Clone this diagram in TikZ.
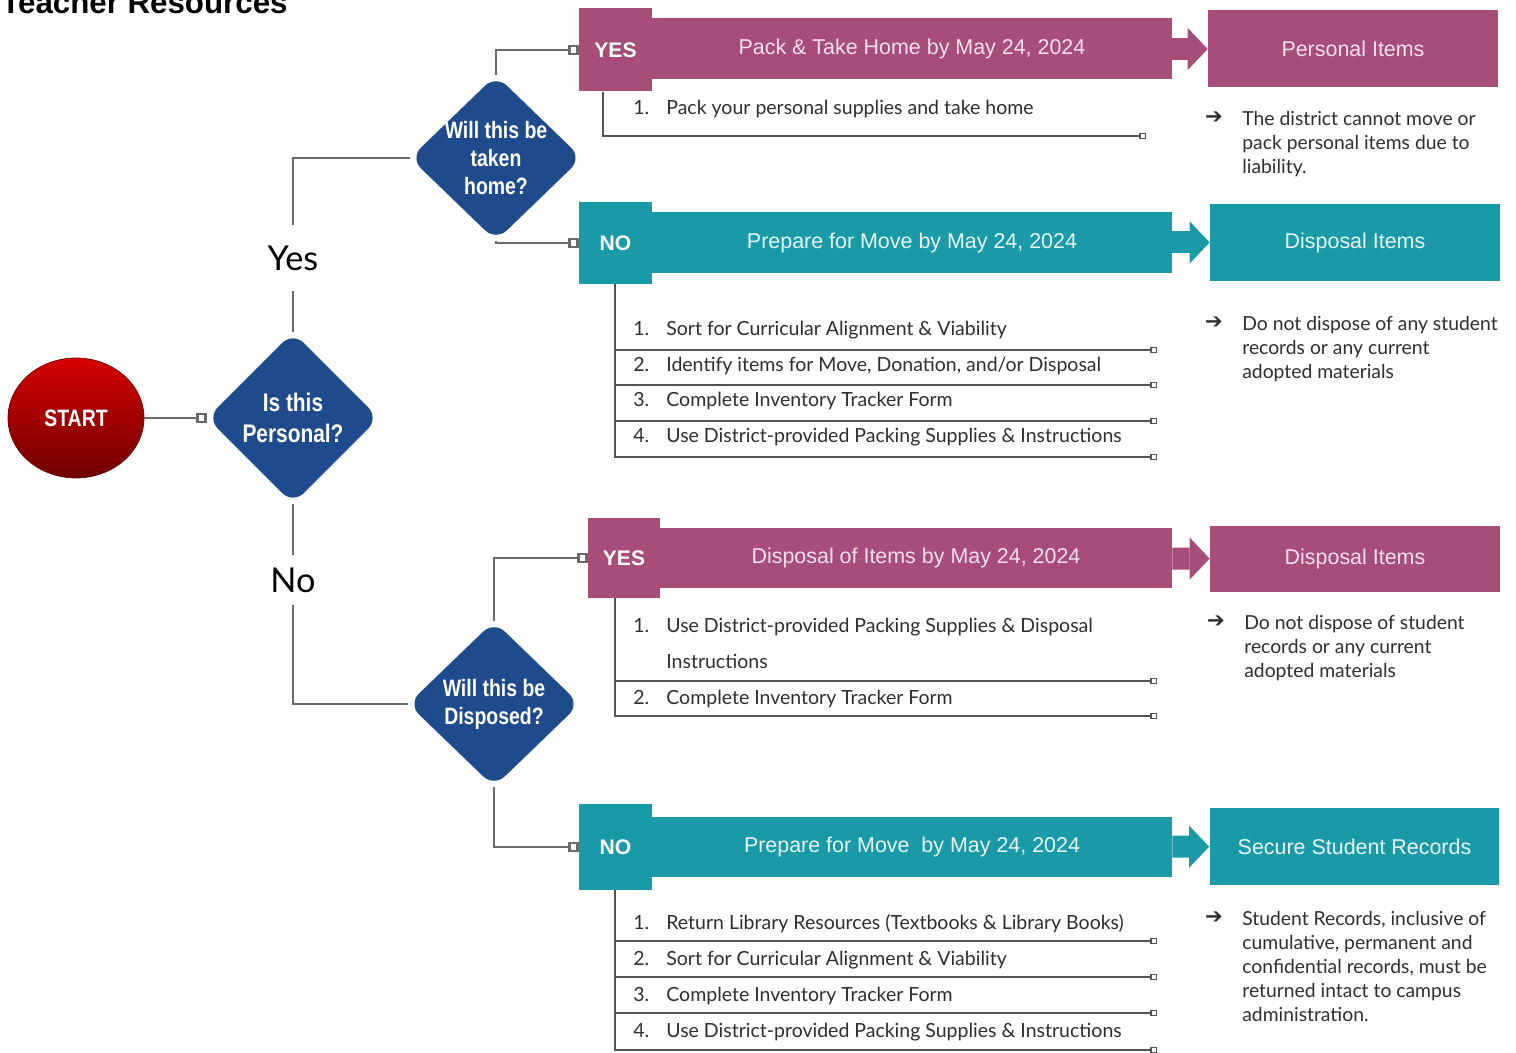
\documentclass[tikz,border=0pt]{standalone}
\usepackage{fontspec}
\usepackage{xcolor}
\setmainfont{Lato}
\newfontfamily\headfont{Liberation Sans}
\newfontfamily\condfont[FakeStretch=0.82]{Liberation Sans}
\newfontfamily\symfont{DejaVu Sans}
\usetikzlibrary{shapes.geometric,arrows.meta}

\definecolor{plum}{HTML}{A64D79}
\definecolor{tealbox}{HTML}{1A9AA7}
\definecolor{navy}{HTML}{1F4A8C}
\definecolor{linegray}{HTML}{6A6A6A}
\definecolor{rulegray}{HTML}{555555}
\definecolor{txtgray}{HTML}{2E2E2E}
\definecolor{pinktxt}{HTML}{F9E0EC}
\definecolor{paletxt}{HTML}{E6F6F8}
\definecolor{startred}{HTML}{D60000}
\definecolor{startdark}{HTML}{6E0000}

\begin{document}
\begin{tikzpicture}[x=0.02cm, y=-0.02cm,
    tag/.style={minimum width=1.46cm, minimum height=1.66cm, inner sep=0, font=\headfont\bfseries\fontsize{12}{14}\selectfont},
    head/.style={minimum width=10.4cm, minimum height=1.22cm, inner sep=0, font=\headfont\fontsize{12.2}{14}\selectfont},
    result/.style={minimum width=5.8cm, minimum height=1.54cm, inner sep=0, font=\headfont\fontsize{12.2}{14}\selectfont},
    decide/.style={diamond, aspect=1, minimum width=3.44cm, minimum height=3.32cm, inner sep=-1cm, fill=navy, rounded corners=0.3cm, text=white, align=center, font=\condfont\bfseries\fontsize{13.5}{16}\selectfont},
    plain/.style={draw=linegray, line width=1.4pt},
    link/.style={plain, -{Square[open,length=6pt,width=6pt]}},
    rowline/.style={draw=rulegray, line width=0.8pt, -{Square[open,length=3.8pt,width=3.8pt]}},
    bigarrow/.style={line width=0.44cm, -{Triangle[length=0.4cm,width=0.84cm,line width=0pt]}},
    item/.style={anchor=base west, inner sep=0, text=txtgray, font=\fontsize{11.1}{13}\selectfont},
    note/.style={anchor=north west, inner sep=0, align=left, text=txtgray, font=\fontsize{11}{13.6}\selectfont},
    pointer/.style={inner sep=0, text=txtgray, font=\symfont\fontsize{12}{12}\selectfont}]
    \useasboundingbox (0,0) rectangle (1516,1053);

    % Title (cut off at the top)
    \node[anchor=base west, inner sep=0, font=\headfont\bfseries\fontsize{17.8}{20}\selectfont] (title) at (1,14) {Teacher Resources};

    % Start and first question
    \node[ellipse, minimum width=2.72cm, minimum height=2.4cm, top color=startred, bottom color=startdark, draw=startdark, text=white, font=\condfont\bfseries\fontsize{13.5}{15}\selectfont] (start) at (76,418) {START};
    \node[decide, minimum height=3.44cm, font=\condfont\bfseries\fontsize{14.5}{18}\selectfont] (personal) at (293,418) {Is this\\Personal?};
    \draw[link] (start.east) -- (personal.west);

    % Yes / No labels
    \node[minimum height=1.3cm, inner sep=0, font=\fontsize{19.5}{22}\selectfont] (lblyes) at (293,258) {Yes};
    \node[minimum height=1cm, inner sep=0, font=\fontsize{19.5}{22}\selectfont] (lblno) at (293,580) {No};

    % Second level questions
    \node[decide] (takehome) at (496,158) {Will this be\\taken\\home?};
    \node[decide] (dispose) at (494,704) {Will this be\\Disposed?};

    \draw[plain] (personal.north) -- (lblyes.south);
    \draw[plain] (lblyes.north) |- (takehome.west);
    \draw[plain] (personal.south) -- (lblno.north);
    \draw[plain] (lblno.south) |- (dispose.west);

    % Branch 1: take home
    \node[tag, fill=plum, text=white] (yes1) at (615.5,50) {YES};
    \node[head, fill=plum, text=pinktxt] (hd1) at (912,49) {Pack \& Take Home by May 24, 2024};
    \node[result, fill=plum, text=pinktxt] (rt1) at (1353,49) {Personal Items};
    \draw[bigarrow, plum] (hd1) -- (rt1);
    \draw[link] (takehome.north) |- (yes1.west);

    \draw[rowline] (603,92) |- (1146,136);
    \node[item] (n11) at (633,115) {1.};
    \node[item] (t11) at (666,115) {Pack your personal supplies and take home};

    \node[pointer] (ar1) at (1214,118) {➔};
    \node[note] (nt1) at (1242,111) {The district cannot move or\\pack personal items due to\\liability.};

    % Branch 2: prepare for move
    \node[tag, fill=tealbox, text=white] (no1) at (615.5,243) {NO};
    \node[head, fill=tealbox, text=paletxt] (hd2) at (912,242.5) {Prepare for Move by May 24, 2024};
    \node[result, fill=tealbox, text=paletxt] (rt2) at (1355,242.5) {Disposal Items};
    \draw[bigarrow, tealbox] (hd2) -- (rt2);
    \draw[link] (takehome.south) |- (no1.west);

    \draw[rowline] (615,284) |- (1157,457);
    \draw[rowline] (615,350) -- (1157,350);
    \draw[rowline] (615,385) -- (1157,385);
    \draw[rowline] (615,421) -- (1157,421);
    \node[item] (n21) at (633,336) {1.};
    \node[item] (t21) at (666,336) {Sort for Curricular Alignment \& Viability};
    \node[item] (n22) at (633,372) {2.};
    \node[item] (t22) at (666,372) {Identify items for Move, Donation, and/or Disposal};
    \node[item] (n23) at (633,407) {3.};
    \node[item] (t23) at (666,407) {Complete Inventory Tracker Form};
    \node[item] (n24) at (633,443) {4.};
    \node[item] (t24) at (666,443) {Use District-provided Packing Supplies \& Instructions};

    \node[pointer] (ar2) at (1214,323) {➔};
    \node[note] (nt2) at (1242,316) {Do not dispose of any student\\records or any current\\adopted materials};

    % Branch 3: disposal
    \node[tag, fill=plum, text=white, minimum width=1.44cm, minimum height=1.6cm] (yes2) at (624,558) {YES};
    \node[head, fill=plum, text=pinktxt, minimum width=10.24cm, minimum height=1.2cm] (hd3) at (916,558) {Disposal of Items by May 24, 2024};
    \node[result, fill=plum, text=pinktxt, minimum height=1.32cm] (rt3) at (1355,559) {Disposal Items};
    \draw[bigarrow, plum] (hd3) -- (rt3);
    \draw[link] (dispose.north) |- (yes2.west);

    \draw[rowline] (615,598) |- (1157,716);
    \draw[rowline] (615,681) -- (1157,681);
    \node[item] (n31) at (633,633) {1.};
    \node[item] (t31) at (666,633) {Use District-provided Packing Supplies \& Disposal};
    \node[item] (t31b) at (666,669) {Instructions};
    \node[item] (n32) at (633,705) {2.};
    \node[item] (t32) at (666,705) {Complete Inventory Tracker Form};

    \node[pointer] (ar3) at (1216,622) {➔};
    \node[note] (nt3) at (1244,615) {Do not dispose of student\\records or any current\\adopted materials};

    % Branch 4: student records
    \node[tag, fill=tealbox, text=white, minimum height=1.72cm] (no2) at (615.5,847) {NO};
    \node[head, fill=tealbox, text=paletxt] (hd4) at (912,847) {Prepare for Move ~by May 24, 2024};
    \node[result, fill=tealbox, text=paletxt] (rt4) at (1354.5,846.5) {Secure Student Records};
    \draw[bigarrow, tealbox] (hd4) -- (rt4);
    \draw[link] (dispose.south) |- (no2.west);

    \draw[rowline] (615,890) |- (1157,1050);
    \draw[rowline] (615,941) -- (1157,941);
    \draw[rowline] (615,977) -- (1157,977);
    \draw[rowline] (615,1013) -- (1157,1013);
    \node[item] (n41) at (633,930) {1.};
    \node[item] (t41) at (666,930) {Return Library Resources (Textbooks \& Library Books)};
    \node[item] (n42) at (633,966) {2.};
    \node[item] (t42) at (666,966) {Sort for Curricular Alignment \& Viability};
    \node[item] (n43) at (633,1002) {3.};
    \node[item] (t43) at (666,1002) {Complete Inventory Tracker Form};
    \node[item] (n44) at (633,1038) {4.};
    \node[item] (t44) at (666,1038) {Use District-provided Packing Supplies \& Instructions};

    \node[pointer] (ar4) at (1214,918) {➔};
    \node[note] (nt4) at (1242,911) {Student Records, inclusive of\\cumulative, permanent and\\confidential records, must be\\returned intact to campus\\administration.};
\end{tikzpicture}
\end{document}
